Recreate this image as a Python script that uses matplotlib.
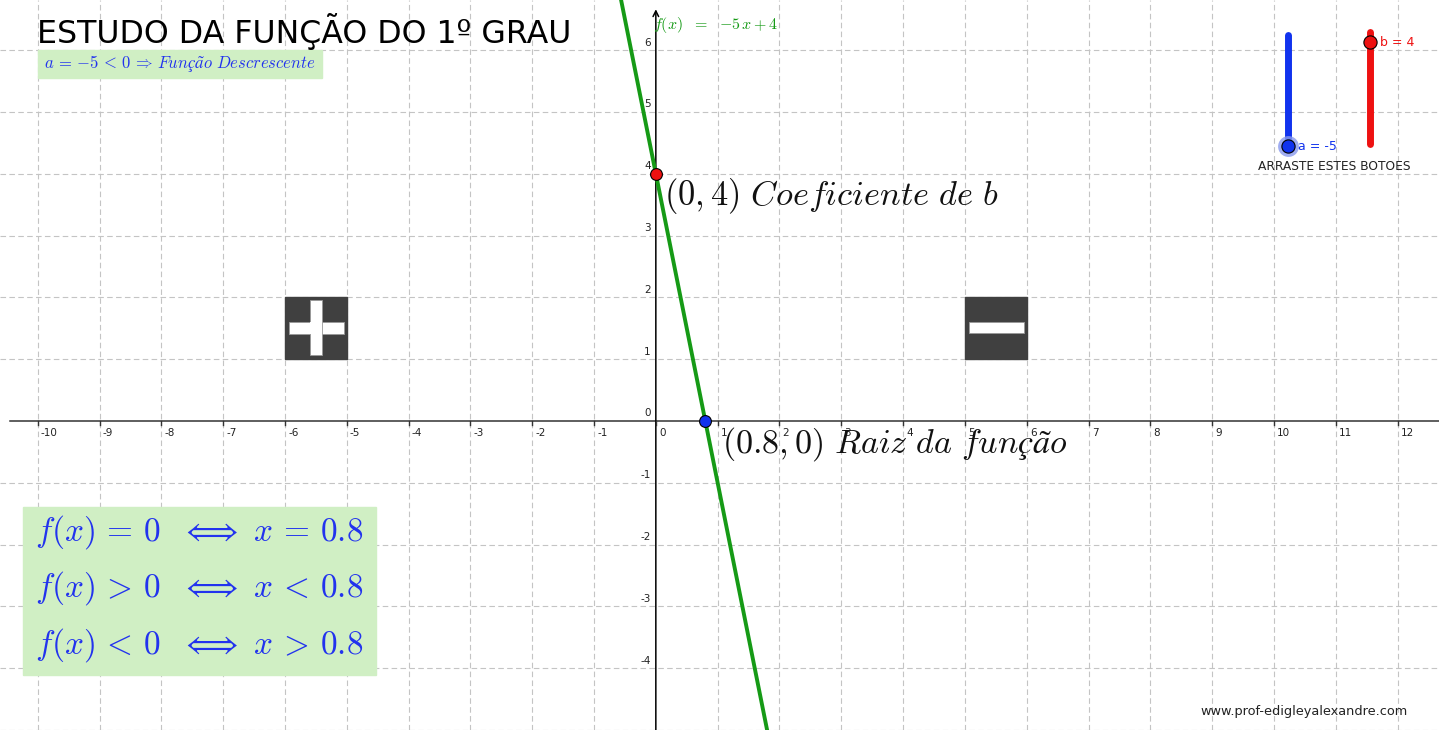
import matplotlib
matplotlib.use("Agg")
import matplotlib.pyplot as plt
from matplotlib.patches import Rectangle
from matplotlib.lines import Line2D
import numpy as np

plt.rcParams['mathtext.fontset'] = 'cm'

# function f(x) = a*x + b
a = -5
b = 4
root = -b / a

x_ticks = list(range(-10, 13))
y_ticks = list(range(-5, 7))

x_min, x_max = -10.61, 12.67
y_min, y_max = -5.0, 6.81

W, H = 1439, 730
fig = plt.figure(figsize=(W / 100, H / 100), dpi=100)
ax = fig.add_axes([0, 0, 1, 1])
ax.set_xlim(x_min, x_max)
ax.set_ylim(y_min, y_max)
ax.axis('off')


def px(x, y):
    # pixel position (from top-left) -> figure fraction
    return x / W, 1 - y / H


grid_col = '#c4c4c4'
for gx in x_ticks:
    if gx != 0:
        ax.axvline(gx, color=grid_col, lw=0.8, dashes=(5, 3), zorder=0)
for gy in y_ticks:
    if gy != 0:
        ax.axhline(gy, color=grid_col, lw=0.8, dashes=(5, 3), zorder=0)

# axes
ax.plot([-10.45, x_max], [0, 0], color='#333333', lw=1.1, zorder=2)
ax.annotate('', xy=(0, 6.66), xytext=(0, y_min),
            arrowprops=dict(arrowstyle='->', color='black', lw=1.1,
                            shrinkA=0, shrinkB=0), zorder=2)

for gx in x_ticks:
    ax.plot([gx, gx], [0, -0.07], color='#333333', lw=1, zorder=2)
    ax.text(gx + 0.05, -0.12, str(gx), fontsize=7.5, ha='left', va='top',
            color='#222222', zorder=1)
for gy in y_ticks:
    if gy == y_min:
        continue
    ax.text(-0.08, gy + 0.04, str(gy), fontsize=7.5, ha='right',
            va='bottom', color='#222222', zorder=1)

# function line
xs = np.array([-1, 2.5])
ax.plot(xs, a * xs + b, color='#169a16', lw=2.8, zorder=3,
        solid_capstyle='butt')

# points
ax.plot([0], [b], 'o', ms=8.5, mfc='#ee1111', mec='black', mew=0.8,
        zorder=5)
ax.plot([root], [0], 'o', ms=8.5, mfc='#1133ee', mec='black', mew=0.8,
        zorder=5)

ax.text(0.13, 3.64, r'$(0,4)\ Coeficiente\ de\ b$', fontsize=24.8,
        ha='left', va='center', color='#111111', zorder=6)
ax.text(1.07, -0.37, r'$(0.8,0)\ Raiz\ da\ função$', fontsize=24.5,
        ha='left', va='center', color='#111111', zorder=6)

ax.text(-0.05, 6.4, r'$f(x)\ \ =\ \ {-5}\,x+4$', fontsize=11.5, ha='left',
        va='center', color='#169a16')

# plus / minus icons
dark = '#404040'
ax.add_patch(Rectangle((-6, 1), 1, 1, color=dark, zorder=1))
ax.add_patch(Rectangle((-5.93, 1.41), 0.88, 0.19, fc='white',
                       ec='#999999', lw=0.6, zorder=2))
ax.add_patch(Rectangle((-5.6, 1.07), 0.2, 0.88, fc='white',
                       ec='#999999', lw=0.6, zorder=2))
ax.add_patch(Rectangle((-5.6, 1.41), 0.2, 0.19, fc='white',
                       ec='none', zorder=3))
ax.add_patch(Rectangle((5, 1), 1, 1, color=dark, zorder=1))
ax.add_patch(Rectangle((5.07, 1.43), 0.88, 0.17, fc='white',
                       ec='#999999', lw=0.6, zorder=2))

# title
fig.text(*px(37, 31), 'ESTUDO DA FUNÇÃO DO 1º GRAU', fontsize=22.8,
         ha='left', va='center', color='black')

# top green box
box_green = '#d0efc4'
fig.patches.append(Rectangle(px(38, 78), 284 / W, 28 / H,
                             transform=fig.transFigure, color=box_green,
                             zorder=1))
fig.text(*px(44, 63),
         r'$a\,=\,{-5}\,<\,0\,\Rightarrow\,Função\ Descrescente$',
         fontsize=12, ha='left', va='center', color='#2233ee', zorder=3)

# bottom green box
fig.patches.append(Rectangle(px(23, 675), 353 / W, 168 / H,
                             transform=fig.transFigure, color=box_green,
                             zorder=1))
lines = [r'$f(x)\,=\,0\ \ \Longleftrightarrow\ x\,=\,0.8$',
         r'$f(x)\,>\,0\ \ \Longleftrightarrow\ x\,<\,0.8$',
         r'$f(x)\,<\,0\ \ \Longleftrightarrow\ x\,>\,0.8$']
for i, t in enumerate(lines):
    fig.text(*px(35, 532 + i * 56.5), t, fontsize=24, ha='left',
             va='center', color='#2233ee', zorder=3)

# sliders
fig.add_artist(Line2D([1288 / W] * 2, [1 - 35 / H, 1 - 146 / H],
                      color='#1133ee', lw=5, solid_capstyle='round'))
fig.add_artist(Line2D([1370 / W] * 2, [1 - 32 / H, 1 - 144 / H],
                      color='#ee1111', lw=5, solid_capstyle='round'))
fig.add_artist(Line2D([1288 / W], [1 - 146 / H], marker='o', ms=15,
                      mfc='#8899ee', mec='none', alpha=0.8))
fig.add_artist(Line2D([1288 / W], [1 - 146 / H], marker='o', ms=9.5,
                      mfc='#1133ee', mec='black', mew=0.8))
fig.add_artist(Line2D([1370 / W], [1 - 42 / H], marker='o', ms=9.5,
                      mfc='#ee1111', mec='black', mew=0.8))
fig.text(*px(1298, 146), 'a = -5', fontsize=9, color='#1133ee',
         ha='left', va='center')
fig.text(*px(1380, 42), 'b = 4', fontsize=9, color='#ee1111',
         ha='left', va='center')
fig.text(*px(1334, 166), 'ARRASTE ESTES BOTOES', fontsize=8.8,
         color='#222222', ha='center', va='center')

fig.text(*px(1304, 711), 'www.prof-edigleyalexandre.com', fontsize=9.3,
         color='#222222', ha='center', va='center')

fig.savefig('out.png', dpi=100, facecolor='white')
